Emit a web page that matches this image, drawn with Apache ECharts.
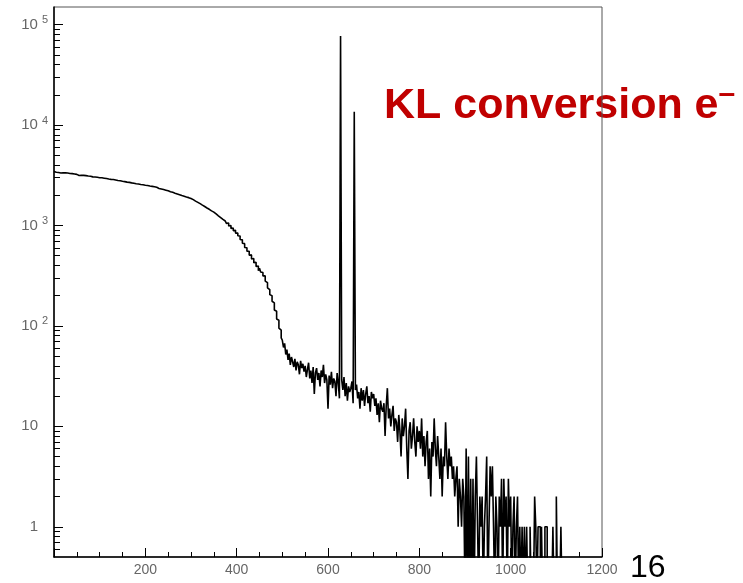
<!DOCTYPE html>
<html>
<head>
<meta charset="utf-8">
<script src="https://cdn.jsdelivr.net/npm/echarts@6/dist/echarts.min.js"></script>
<style>
  html, body { margin: 0; padding: 0; background: #ffffff; }
  #chart { width: 743px; height: 583px; }
</style>
</head>
<body>
<div id="chart"></div>
<script>
// Momentum spectrum histogram: counts per 2.5-unit bin, 0 .. 1200 (10 bins per row)
const binStart = 0;
const binWidth = 2.5;
const xMax = 1200;
const counts = [
  3460, 3395, 3420, 3370, 3405, 3330, 3380, 3350, 3300, 3345,   // 0
  3290, 3330, 3265, 3300, 3240, 3285, 3220, 3260, 3195, 3230,   // 25
  3210, 3150, 3190, 3170, 3120, 3160, 3095, 3140, 3075, 3110,   // 50
  3060, 3100, 3030, 3050, 3010, 3045, 2980, 3020, 2960, 2995,   // 75
  2950, 2985, 2920, 2960, 2890, 2935, 2870, 2905, 2845, 2880,   // 100
  2835, 2870, 2800, 2840, 2775, 2810, 2750, 2790, 2720, 2760,   // 125
  2700, 2735, 2680, 2705, 2650, 2690, 2630, 2660, 2605, 2640,   // 150
  2580, 2610, 2555, 2590, 2530, 2565, 2510, 2545, 2485, 2520,   // 175
  2470, 2500, 2445, 2475, 2420, 2455, 2395, 2430, 2375, 2400,   // 200
  2370, 2340, 2360, 2310, 2330, 2280, 2300, 2250, 2265, 2215,   // 225
  2220, 2170, 2185, 2140, 2150, 2100, 2115, 2065, 2075, 2030,   // 250
  2035, 1990, 2000, 1960, 1965, 1925, 1935, 1895, 1900, 1860,   // 275
  1865, 1810, 1805, 1750, 1760, 1700, 1705, 1650, 1655, 1595,   // 300
  1600, 1545, 1555, 1495, 1505, 1450, 1455, 1400, 1410, 1360,   // 325
  1365, 1305, 1315, 1250, 1265, 1200, 1215, 1150, 1165, 1110,   // 350
  1110, 1050, 1060, 990, 1000, 935, 945, 890, 895, 840,         // 375
  840, 790, 785, 725, 720, 665, 660, 605, 600, 555,             // 400
  555, 505, 510, 465, 470, 425, 430, 390, 395, 355,             // 425
  375, 345, 340, 315, 315, 280, 270, 240, 230, 205,             // 450
  200, 176, 170, 144, 140, 117, 114, 95, 91, 76,                // 475
  72, 61, 67, 52, 58, 46, 53, 41, 49, 44,                       // 500
  39, 47, 36, 44, 41, 33, 45, 38, 42, 35,                       // 525
  40, 31, 37, 43, 30, 36, 27, 39, 21, 34,                       // 550
  38, 29, 34, 25, 36, 31, 41, 27, 33, 29,                       // 575
  15, 32, 26, 35, 24, 30, 28, 20, 34, 27,                       // 600
  19, 77000, 29, 23, 31, 20, 27, 18, 25, 22,                    // 625
  24, 28, 17, 13600, 23, 26, 19, 22, 15, 24,                    // 650
  18, 23, 16, 21, 25, 17, 20, 14, 22, 19,                       // 675
  21, 16, 19, 13, 17, 11, 18, 15, 14, 17,                       // 700
  8, 16, 24, 12, 15, 10, 13, 16, 9, 12,                         // 725
  11, 7, 13, 9, 5, 12, 8, 10, 15, 6,                            // 750
  3, 9, 11, 6, 8, 12, 7, 5, 10, 7,                              // 775
  9, 6, 12, 5, 8, 4, 7, 9, 3, 6,                                // 800
  2, 7, 5, 12, 6, 4, 8, 5, 3, 6,                                // 825
  2, 5, 4, 11, 5, 3, 6, 4, 5, 3,                                // 850
  4, 2, 3, 4, 1, 3, 2, 1, 3, 2,                                 // 875
  0, 6, 0, 5, 0, 3, 0, 3, 0, 2,                                 // 900
  5, 1, 0, 2, 1, 2, 0, 1, 2, 5,                                 // 925
  0, 1, 4, 2, 4, 1, 0, 2, 1, 0,                                 // 950
  2, 1, 3, 0, 3, 1, 2, 0, 3, 1,                                 // 975
  2, 0, 1, 2, 0, 1, 2, 0, 1, 0,                                 // 1000
  1, 0, 1, 0, 1, 0, 0, 1, 0, 0,                                 // 1025
  0, 2, 1, 0, 1, 1, 0, 1, 0, 0,                                 // 1050
  1, 1, 0, 0, 0, 0, 0, 1, 0, 0,                                 // 1075
  2, 0, 0, 0, 1, 0, 0, 0, 0, 0,                                 // 1100
  0, 0, 0, 0, 0, 0, 0, 0, 0, 0,                                 // 1125
  0, 0, 0, 0, 0, 0, 0, 0, 0, 0,                                 // 1150
  0, 0, 0, 0, 0, 0, 0, 0, 0, 0                                  // 1175
];

const xLabelStep = 200;
const yDecades = [1, 10, 100, 1000, 10000, 100000];
const yMinorTicks = [
  0.6, 0.7, 0.8, 0.9,
  2, 3, 4, 5, 6, 7, 8, 9,
  20, 30, 40, 50, 60, 70, 80, 90,
  200, 300, 400, 500, 600, 700, 800, 900,
  2000, 3000, 4000, 5000, 6000, 7000, 8000, 9000,
  20000, 30000, 40000, 50000, 60000, 70000, 80000, 90000
];
const yMin = 0.5;
const yMax = 150000;
const annotationText = 'KL conversion e';
const annotationSup = '–';
const pageNumber = '16';

// Empty bins sit below the log axis floor so the step line drops out of the frame
const emptyLevel = 0.2;
const stepPoints = counts.map((c, i) => [binStart + i * binWidth, c > 0 ? c : emptyLevel]);
stepPoints.push([xMax, stepPoints[stepPoints.length - 1][1]]);

const labelGray = '#666666';
const font = 'Liberation Sans, Arial, Helvetica, sans-serif';

const chart = echarts.init(document.getElementById('chart'), null, { renderer: 'canvas' });

chart.setOption({
  animation: false,
  backgroundColor: '#ffffff',
  grid: {
    left: 54, right: 141, top: 7, bottom: 26,
    show: true, borderColor: '#555555', borderWidth: 1, backgroundColor: 'transparent'
  },
  xAxis: {
    type: 'value', min: 0, max: xMax, interval: xLabelStep,
    axisLine: { show: true, lineStyle: { color: '#000000', width: 1.5 } },
    axisTick: { show: true, inside: true, length: 9, lineStyle: { color: '#000000', width: 1 } },
    minorTick: { show: true, splitNumber: 4, length: 5, lineStyle: { color: '#000000', width: 1 } },
    splitLine: { show: false },
    axisLabel: {
      showMinLabel: false, margin: 6, color: labelGray, fontSize: 14, fontFamily: font,
      formatter: function (v) { return String(v); }
    }
  },
  yAxis: [
    {
      type: 'log', logBase: 10, min: yMin, max: yMax,
      axisLine: { show: true, lineStyle: { color: '#000000', width: 1.5 } },
      axisTick: { show: true, inside: true, length: 9, customValues: yDecades, lineStyle: { color: '#000000', width: 1 } },
      splitLine: { show: false },
      axisLabel: {
        customValues: yDecades, margin: 6,
        formatter: function (v) {
          const e = Math.round(Math.log10(v));
          if (e === 0) return '{b|1}{g|}';
          if (e === 1) return '{b|10}{g|}';
          return '{b|10}{s|' + e + '}';
        },
        rich: {
          b: { fontSize: 15, color: labelGray, fontFamily: font },
          s: { fontSize: 11, color: labelGray, fontFamily: font, padding: [0, 0, 9, 4] },
          g: { width: 10 }
        }
      }
    },
    {
      type: 'log', logBase: 10, min: yMin, max: yMax, position: 'left',
      axisLine: { show: false },
      axisTick: { show: true, inside: true, length: 6, customValues: yMinorTicks, lineStyle: { color: '#000000', width: 1 } },
      axisLabel: { show: false },
      splitLine: { show: false }
    }
  ],
  series: [
    {
      type: 'line',
      xAxisIndex: 0, yAxisIndex: 0,
      data: stepPoints,
      step: 'end',
      showSymbol: false,
      clip: true,
      lineStyle: { color: '#000000', width: 1.6 },
      z: 3
    }
  ],
  graphic: [
    {
      type: 'text', z: -10, left: 384, top: 80,
      style: {
        text: '{m|' + annotationText + '}{s|' + annotationSup + '}',
        rich: {
          m: { fontSize: 43, fontWeight: 'bold', fill: '#c00000', fontFamily: font },
          s: { fontSize: 30, fontWeight: 'bold', fill: '#c00000', fontFamily: font, padding: [0, 0, 22, 0] }
        }
      }
    },
    {
      type: 'text', left: 630, top: 552,
      style: { text: pageNumber, fontSize: 32, fill: '#000000', fontFamily: font }
    }
  ]
});
</script>
</body>
</html>
